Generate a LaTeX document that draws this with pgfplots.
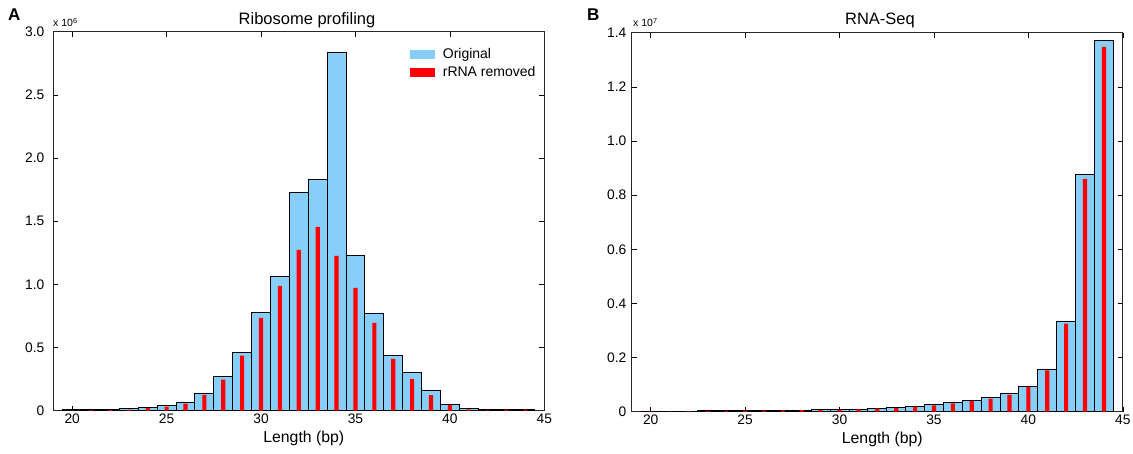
\documentclass[border=0pt]{standalone}
\usepackage{fontspec}
\setmainfont{Liberation Sans}
\usepackage{pgfplots}
\pgfplotsset{compat=1.18}
\definecolor{skyb}{RGB}{135,206,250}
\definecolor{rred}{RGB}{255,0,0}

\pgfplotsset{
  myaxis/.style={
    scale only axis, width=491pt, height=379pt,
    anchor=south west,
    xmin=19, xmax=45, ymin=0,
    xtick={20,25,...,45}, xticklabels={20,25,30,35,40,45},
    tick align=inside, major tick length=5pt,
    axis line style={line width=1.2pt, black!85},
    every tick/.style={black, line width=0.6pt},
    ticklabel style={font=\fontsize{13.8}{15}\selectfont},
    xlabel={Length (bp)},
    xlabel style={xshift=5pt},
    label style={font=\fontsize{15.8}{18}\selectfont},
  },
  blueb/.style={ybar, bar width=1, bar shift=0pt, fill=skyb, draw=black, line width=0.9pt},
  redb/.style={ybar, bar width=0.22, bar shift=0pt, fill=rred, draw=none},
}

\begin{document}
\begin{tikzpicture}[x=1pt,y=1pt]
\useasboundingbox (0,0) rectangle (1133,454);

% ---------------- Panel A ----------------
\begin{axis}[myaxis, at={(53.3pt,43.3pt)}, ymax=3,
  ytick={0,0.5,...,3}, yticklabels={0,0.5,1.0,1.5,2.0,2.5,3.0},
  yticklabel style={xshift=-5.5pt},
  legend style={draw=none, fill=none, font=\fontsize{14}{16}\selectfont,
    at={(0.727,0.962)}, anchor=north west, inner sep=0pt, row sep=2pt,
    cells={anchor=west}},
]
\addplot[blueb, forget plot] coordinates {
(20,0.008) (21,0.010) (22,0.010) (23,0.015) (24,0.027) (25,0.040) (26,0.069)
(27,0.138) (28,0.272) (29,0.462) (30,0.777) (31,1.065) (32,1.725) (33,1.830)
(34,2.835) (35,1.228) (36,0.772) (37,0.436) (38,0.304) (39,0.157) (40,0.050)
(41,0.016) (42,0.008) (43,0.013) (44,0.013)};
\addplot[redb, forget plot] coordinates {
(20,0.003) (21,0.004) (22,0.005) (23,0.008) (24,0.020) (25,0.033) (26,0.055)
(27,0.125) (28,0.245) (29,0.435) (30,0.735) (31,0.988) (32,1.273) (33,1.456)
(34,1.226) (35,0.972) (36,0.695) (37,0.410) (38,0.251) (39,0.124) (40,0.045)
(41,0.010) (42,0.004) (43,0.008) (44,0.008)};
\addlegendimage{legend image code/.code={\fill[skyb] (0pt,-3.8pt) rectangle (24pt,3.8pt); \path (30pt,0pt);}}
\addlegendentry{Original}
\addlegendimage{legend image code/.code={\fill[rred] (0pt,-4pt) rectangle (24pt,4pt); \path (30pt,0pt);}}
\addlegendentry{rRNA removed}
\end{axis}

% ---------------- Panel B ----------------
\begin{axis}[myaxis, at={(631.8pt,42.3pt)}, ymax=14,
  ytick={0,2,...,14}, yticklabels={0,0.2,0.4,0.6,0.8,1.0,1.2,1.4},
  yticklabel style={xshift=-2pt},
]
\addplot[blueb] coordinates {
(20,0.015) (21,0.020) (22,0.025) (23,0.030) (24,0.035) (25,0.040) (26,0.045)
(27,0.050) (28,0.060) (29,0.070) (30,0.085) (31,0.100) (32,0.125) (33,0.160)
(34,0.200) (35,0.250) (36,0.330) (37,0.410) (38,0.510) (39,0.680) (40,0.930)
(41,1.550) (42,3.320) (43,8.770) (44,13.720)};
\addplot[redb] coordinates {
(20,0.012) (21,0.016) (22,0.020) (23,0.025) (24,0.030) (25,0.035) (26,0.040)
(27,0.045) (28,0.054) (29,0.063) (30,0.077) (31,0.090) (32,0.112) (33,0.145)
(34,0.185) (35,0.232) (36,0.310) (37,0.390) (38,0.480) (39,0.620) (40,0.920)
(41,1.530) (42,3.250) (43,8.600) (44,13.480)};
\end{axis}

% ---------------- Texts ----------------
\node[anchor=base, font=\fontsize{16.5}{19}\selectfont] at (307,429.5) {Ribosome profiling};
\node[anchor=base, font=\fontsize{16.5}{19}\selectfont] at (880,429.5) {RNA-Seq};
\node[anchor=base west, inner sep=0pt, font=\fontsize{17}{19}\selectfont\bfseries] at (8,433) {A};
\node[anchor=base west, inner sep=0pt, font=\fontsize{17}{19}\selectfont\bfseries] at (587,433) {B};
\node[anchor=base west, inner sep=0pt, font=\fontsize{10.5}{12}\selectfont] at (53,427) {x 10\textsuperscript{6}};
\node[anchor=base west, inner sep=0pt, font=\fontsize{10.5}{12}\selectfont] at (633,427) {x 10\textsuperscript{7}};
\end{tikzpicture}
\end{document}
